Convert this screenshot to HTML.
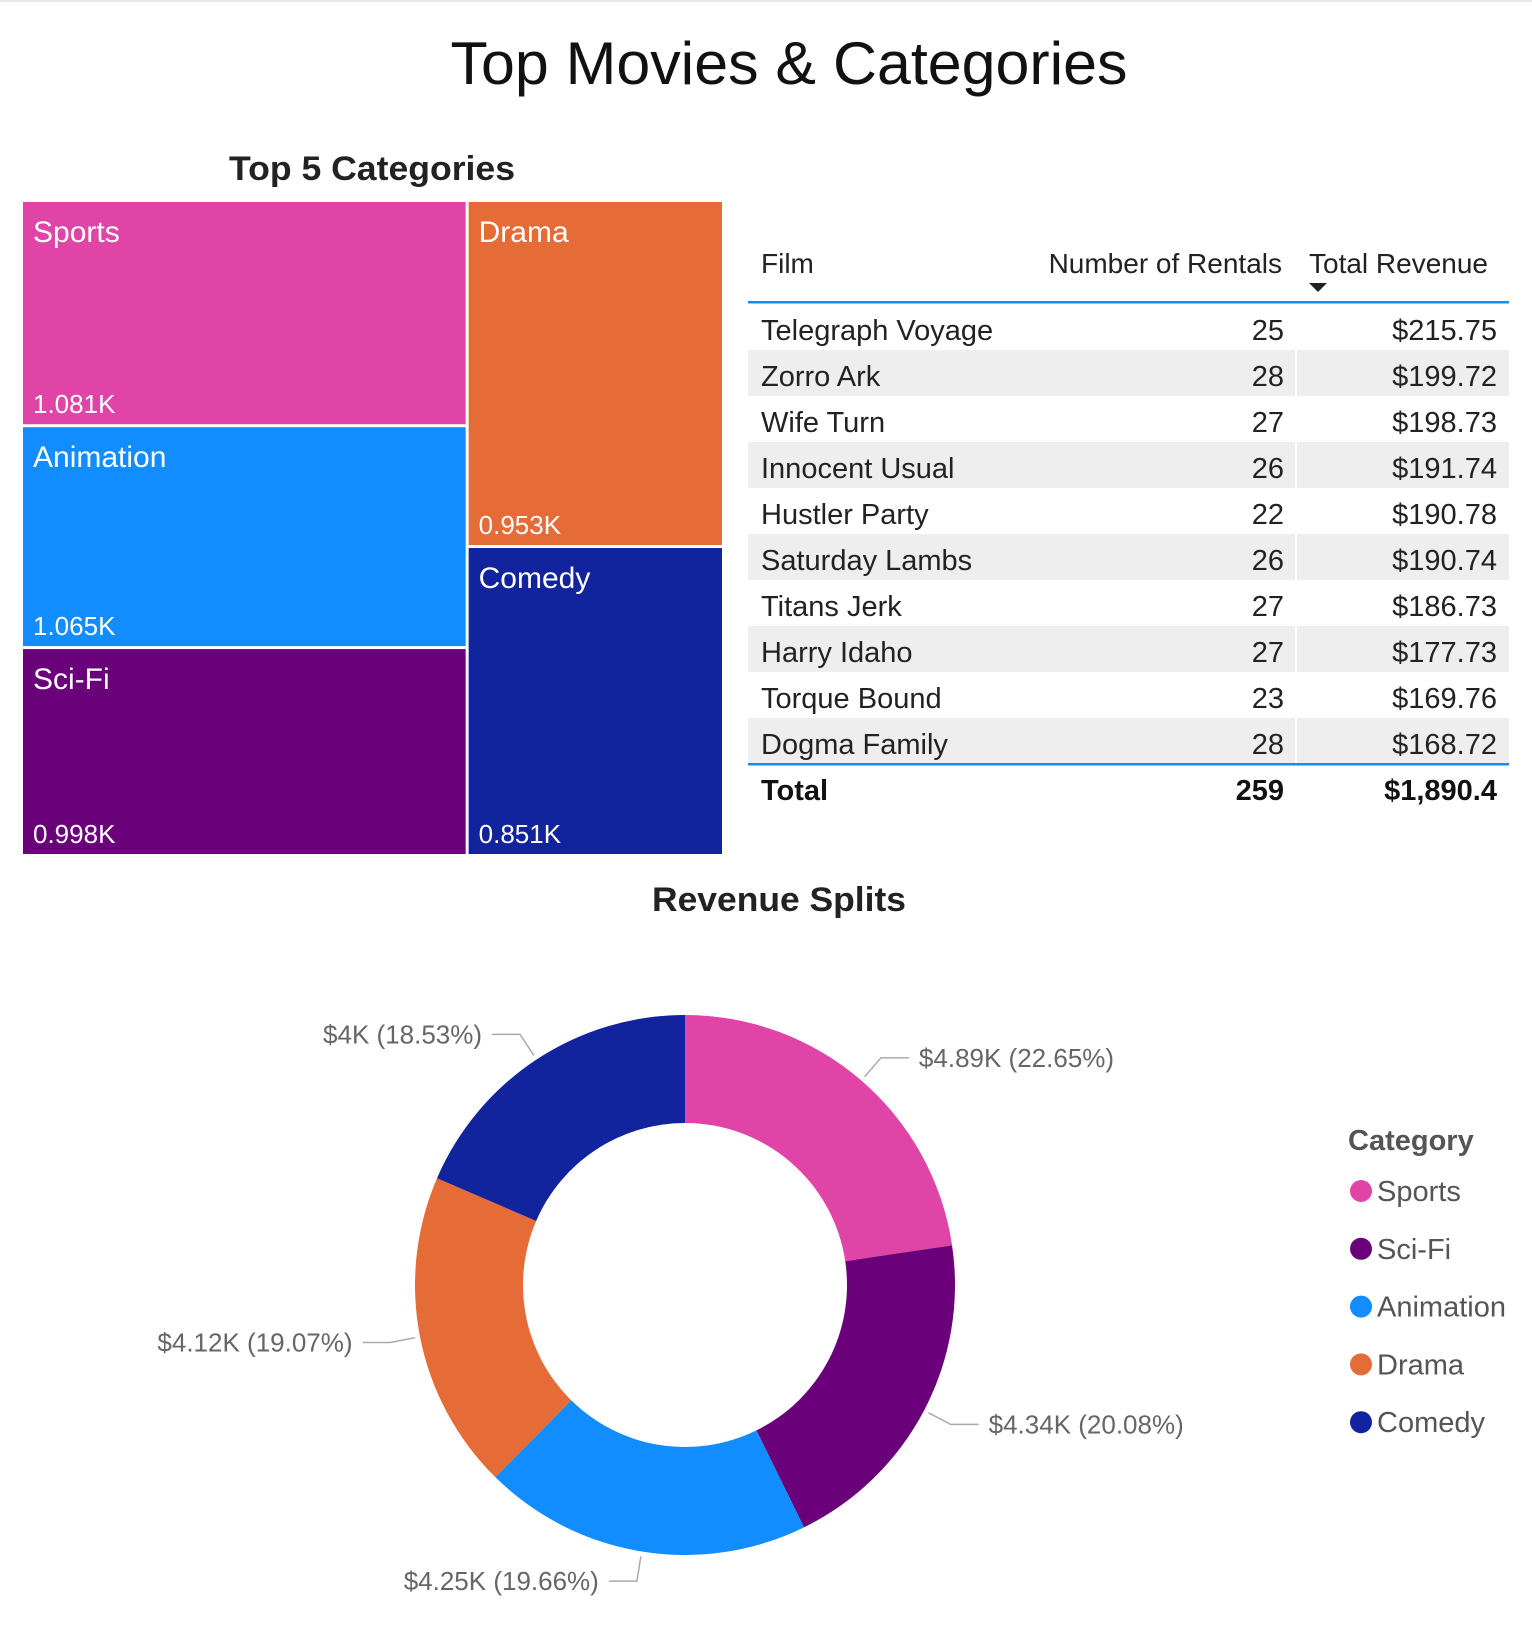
<!DOCTYPE html>
<html><head><meta charset="utf-8"><style>
html,body{margin:0;padding:0;background:#fff;}
svg{display:block;font-family:"Liberation Sans",sans-serif;}
</style></head><body>
<svg id="s" width="1532" height="1646" viewBox="0 0 1532 1646">
<rect x="0" y="0" width="1532" height="2" fill="#e8e8e8"/>
<text x="789" y="84" text-anchor="middle" font-size="60" fill="#111" textLength="677" lengthAdjust="spacingAndGlyphs">Top Movies &amp; Categories</text>
<text x="372" y="180" text-anchor="middle" font-size="34" font-weight="600" fill="#222" textLength="286" lengthAdjust="spacingAndGlyphs">Top 5 Categories</text>
<g id="tm"></g>
<g id="tb"></g>
<text x="779" y="911" text-anchor="middle" font-size="34" font-weight="600" fill="#222" textLength="254" lengthAdjust="spacingAndGlyphs">Revenue Splits</text>
<g id="dn"></g>
<g id="lg"></g>
</svg>
<script>
const categories=["Sports","Animation","Sci-Fi","Drama","Comedy"];
const rentalCounts=[1081,1065,998,953,851];
const countLabels=["1.081K","1.065K","0.998K","0.953K","0.851K"];
const donutCats=["Sports","Sci-Fi","Animation","Drama","Comedy"];
const donutPct=[22.65,20.08,19.66,19.07,18.53];
const donutLabels=["$4.89K (22.65%)","$4.34K (20.08%)","$4.25K (19.66%)","$4.12K (19.07%)","$4K (18.53%)"];
const films=["Telegraph Voyage","Zorro Ark","Wife Turn","Innocent Usual","Hustler Party","Saturday Lambs","Titans Jerk","Harry Idaho","Torque Bound","Dogma Family"];
const rentals=[25,28,27,26,22,26,27,27,23,28];
const revenue=["$215.75","$199.72","$198.73","$191.74","$190.78","$190.74","$186.73","$177.73","$169.76","$168.72"];
const totals=["Total","259","$1,890.4"];
const colors={"Sports":"#E044A7","Animation":"#118DFF","Sci-Fi":"#6B007B","Drama":"#E66C37","Comedy":"#12239E"};
const NS="http://www.w3.org/2000/svg";
function mk(p,tag,at,txt){const e=document.createElementNS(NS,tag);for(const k in at)e.setAttribute(k,at[k]);if(txt!==undefined)e.textContent=txt;p.appendChild(e);return e;}

const tm=document.getElementById('tm');
const X0=23,X1=722,Y0=202,Y1=857,G=3;
const total=rentalCounts.reduce((a,b)=>a+b,0);
const leftSum=rentalCounts.slice(0,3).reduce((a,b)=>a+b,0);
const splitX=X0+(X1-X0)*leftSum/total;
function col(idx,xa,xb,sum){let y=Y0;idx.forEach(i=>{const h=(Y1-Y0)*rentalCounts[i]/sum;
 const r=mk(tm,'rect',{x:xa,y:y,width:xb-xa,height:h-G,fill:colors[categories[i]]});
 
 
 const t1=mk(tm,'text',{x:xa+10,y:y+40,'font-size':30,fill:'#fff'},categories[i]);
 
 
 const t2=mk(tm,'text',{x:xa+10,y:y+h-G-11,'font-size':26,fill:'#fff'},countLabels[i]);
 
 
 y+=h;});}
col([0,1,2],X0,splitX-G/2,leftSum);
col([3,4],splitX+G/2,X1,total-leftSum);

const tb=document.getElementById('tb');
const hd=[["Film",761,"start"],["Number of Rentals",1282,"end"],["Total Revenue",1309,"start"]];
hd.forEach(h=>{const t=mk(tb,'text',{x:h[1],y:273,'font-size':28,fill:'#222','text-anchor':h[2]},h[0]);
 
 });
const ar=mk(tb,'path',{d:'M1309 283 L1327 283 L1318 292 Z',fill:'#222'});


mk(tb,'rect',{x:748,y:301,width:761,height:2.5,fill:'#118DFF'});
const RT=304,RH=46;
films.forEach((f,i)=>{const y=RT+i*RH;
 if(i%2==1){mk(tb,'rect',{x:748,y:y,width:547,height:RH,fill:'#eeeeee'});mk(tb,'rect',{x:1297,y:y,width:212,height:RH,fill:'#eeeeee'});}
 const a=mk(tb,'text',{x:761,y:y+36,'font-size':29,fill:'#222'},f);
 
 
 const b=mk(tb,'text',{x:1284,y:y+36,'font-size':29,fill:'#222','text-anchor':'end'},rentals[i]);
 
 
 const c=mk(tb,'text',{x:1497,y:y+36,'font-size':29,fill:'#222','text-anchor':'end'},revenue[i]);
 
 });
const ty=RT+films.length*RH;
mk(tb,'rect',{x:748,y:ty-1,width:761,height:2.5,fill:'#118DFF'});
[[761,'start'],[1284,'end'],[1497,'end']].forEach((p,k)=>{const t=mk(tb,'text',{x:p[0],y:ty+36,'font-size':29,'font-weight':'bold',fill:'#111','text-anchor':p[1]},totals[k]);
 
 });

const dn=document.getElementById('dn');
const CX=685,CY=1285,RO=270,RI=162;
const pSum=donutPct.reduce((a,b)=>a+b,0);
function pt(a,r){return [CX+r*Math.sin(a),CY-r*Math.cos(a)];}
let acc=0;
donutPct.forEach((v,i)=>{const a0=acc/pSum*2*Math.PI;acc+=v;const a1=acc/pSum*2*Math.PI;const lg=(a1-a0)>Math.PI?1:0;
 const p0=pt(a0,RO),p1=pt(a1,RO),q1=pt(a1,RI),q0=pt(a0,RI);
 const s=mk(dn,'path',{d:`M${p0} A${RO} ${RO} 0 ${lg} 1 ${p1} L${q1} A${RI} ${RI} 0 ${lg} 0 ${q0} Z`,fill:colors[donutCats[i]]});
 
 
 const am=(a0+a1)/2;const s1=pt(am,275),e1=pt(am,300);const right=Math.sin(am)>=0;const hx=e1[0]+(right?28:-28);
 mk(dn,'polyline',{points:`${s1} ${e1} ${hx},${e1[1]}`,fill:'none',stroke:'#aaa','stroke-width':1.5});
 const t=mk(dn,'text',{x:hx+(right?10:-10),y:e1[1]+9,'font-size':26,fill:'#666','text-anchor':right?'start':'end'},donutLabels[i]);
 
 });

const lgG=document.getElementById('lg');
const lt=mk(lgG,'text',{x:1348,y:1150,'font-size':29,'font-weight':'bold',fill:'#555'},'Category');


donutCats.forEach((c,i)=>{const y=1191+i*57.8;
 const d=mk(lgG,'circle',{cx:1361,cy:y,r:11,fill:colors[c]});
 
 
 const t=mk(lgG,'text',{x:1377,y:y+10,'font-size':29,fill:'#555'},c);
 
 });
</script>
</body></html>
